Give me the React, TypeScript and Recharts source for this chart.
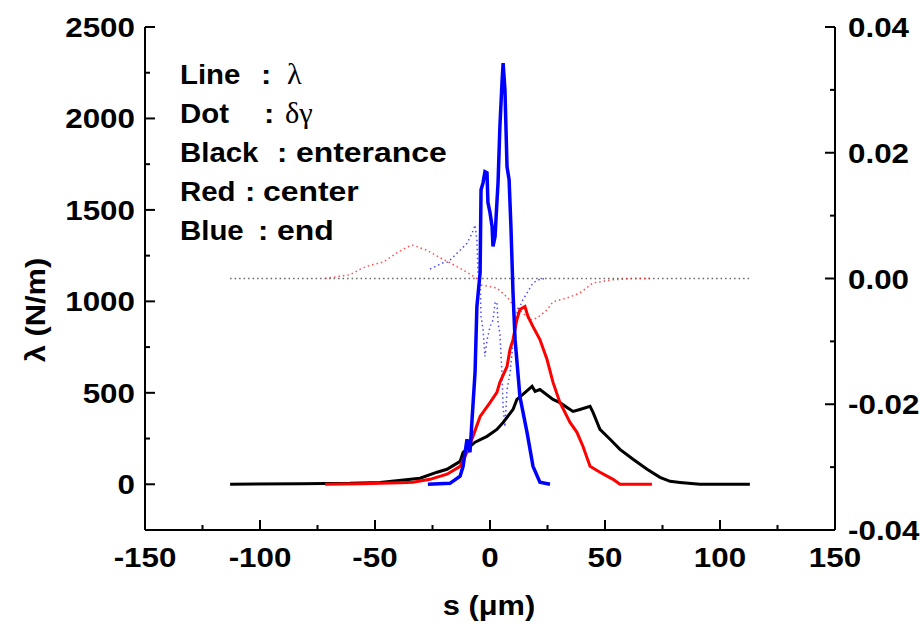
import React from 'react';
import { LineChart, Line, XAxis, YAxis } from 'recharts';

// s (um) positions and lambda (N/m) for entrance / center / end
const entS = [-113, -82.6, -60.9, -47.8, -30.4, -23, -18.7, -13, -11.7, -6.5, -1.3, 3, 5.7, 10, 11.7, 14.3, 18.3, 19.6, 21.7, 27.4, 30.4, 33.5, 36.1, 39.1, 43.5, 44.8, 47.8, 52.2, 56.5, 62.2, 68.3, 73.9, 78.3, 82.6, 91.3, 113];
const entLambda = [0, 3, 5, 10, 33, 66, 82, 125, 175, 230, 262, 300, 338, 409, 464, 491, 535, 508, 518, 464, 447, 420, 398, 409, 426, 393, 300, 246, 191, 137, 82, 38, 16, 10, 0, 0];

const cenS = [-71.7, -56.5, -39.1, -33.5, -26.1, -18.7, -13, -10, -7.4, -4.3, 0, 3, 4.3, 7.4, 8.7, 10, 11.7, 13, 15.2, 16.5, 18.7, 21.7, 24.8, 27.4, 30.4, 34.8, 37.8, 40.4, 43.5, 47.8, 53.5, 56.5, 70.4];
const cenLambda = [0, 3, 8, 11, 27, 55, 98, 175, 262, 371, 447, 502, 557, 644, 737, 791, 901, 955, 972, 917, 862, 791, 682, 557, 447, 338, 284, 208, 98, 66, 27, 0, 0];

const endS = [-27, -17.4, -13, -11.7, -10, -8.7, -7.8, -6.5, -5.7, -4.3, -3.9, -3, -2.2, -1.3, -0.9, 0, 0.9, 1.3, 2.2, 3, 3.5, 4.3, 5.2, 5.7, 6.5, 7.4, 8.3, 9.1, 10, 10.9, 13, 16.1, 18.7, 21.7, 26.1];
const endLambda = [0, 5, 44, 98, 246, 175, 355, 612, 972, 1157, 1610, 1649, 1709, 1703, 1540, 1485, 1410, 1300, 1354, 1540, 1649, 1954, 2194, 2303, 2156, 1736, 1665, 1409, 1048, 792, 480, 284, 98, 11, 0];

// delta gamma (right axis)
const zeroS = [-113, 113];
const zeroGamma = [0, 0];

const cenGS = [-71.7, -60.9, -55.2, -52.2, -46.5, -40.4, -36.1, -33.5, -27.4, -21.7, -17.4, -10, -5.7, -4.3, 3, 7.8, 10, 13, 17.4, 20.4, 24.8, 27.4, 33.5, 39.1, 44.8, 53.5, 62.2, 70.9];
const cenGamma = [0, 0.0006, 0.0017, 0.0021, 0.0026, 0.0041, 0.005, 0.0053, 0.0045, 0.0033, 0.0025, 0.001, 0, -0.001, -0.0015, -0.0031, -0.0042, -0.005, -0.0066, -0.0063, -0.005, -0.0037, -0.0031, -0.0023, -0.0007, -0.0002, 0, 0];

const endGS = [-26.1, -20.4, -18.3, -13, -10, -7.8, -6.5, -5.7, -5.2, -4.3, -3.9, -3, -2.2, -1.3, 0, 1.3, 2.2, 3, 3.5, 4.3, 5.2, 5.7, 6.5, 7.4, 8.7, 9.6, 10, 11.7, 14.3, 16.1, 18.7, 21.7, 24.8];
const endGamma = [0.0015, 0.0025, 0.0026, 0.0045, 0.0056, 0.0072, 0.0085, 0.0061, 0.0009, -0.0002, -0.006, -0.0082, -0.0124, -0.0098, -0.0077, -0.0066, -0.0039, -0.0037, -0.0071, -0.0087, -0.015, -0.0204, -0.0236, -0.0177, -0.015, -0.0118, -0.0097, -0.0055, -0.0034, -0.0023, -0.0007, -0.0001, 0];

const xTicks = [-150, -125, -100, -75, -50, -25, 0, 25, 50, 75, 100, 125, 150];
const leftTicks = [-250, 0, 250, 500, 750, 1000, 1250, 1500, 1750, 2000, 2250, 2500];
const rightTicks = [-0.04, -0.03, -0.02, -0.01, 0, 0.01, 0.02, 0.03, 0.04];

const legendRows = [
  { name: 'Line', value: 'λ', greek: true },
  { name: 'Dot', value: 'δγ', greek: true },
  { name: 'Black', value: 'enterance', greek: false },
  { name: 'Red', value: 'center', greek: false },
  { name: 'Blue', value: 'end', greek: false },
];
// x of the colon and of the value on each legend row
const colonX = [261, 264, 277, 245, 258];
const valueX = [287, 285, 296, 263, 277];

const zip = (s: number[], v: number[]) => s.map((x, i) => ({ x, v: v[i] }));

const FONT = "'Liberation Sans', Arial, Helvetica, sans-serif";
const GREEK = "'Liberation Serif', 'DejaVu Serif', serif";

const T = ({ x, y, anchor = 'start', sx = 1.12, size = 28, weight = 'bold', family = FONT, children }: any) => (
  <text
    transform={`translate(${x},${y}) scale(${sx},1)`}
    textAnchor={anchor}
    fontSize={size}
    fontWeight={weight}
    fontFamily={family}
    fill="#000"
  >
    {children}
  </text>
);

const BottomTick = ({ x, y, payload }: any) => {
  const major = payload.value % 50 === 0;
  return (
    <g>
      <line x1={x} x2={x} y1={y} y2={y - (major ? 10 : 5)} stroke="#000" strokeWidth={2} />
      {major && <T x={x} y={y + 37} anchor="middle">{payload.value}</T>}
    </g>
  );
};

const TopTick = ({ x, y, payload }: any) => {
  const major = payload.value % 50 === 0;
  return <line x1={x} x2={x} y1={y} y2={y + (major ? 10 : 5)} stroke="#000" strokeWidth={2} />;
};

const LeftTick = ({ x, y, payload }: any) => {
  const major = payload.value % 500 === 0;
  return (
    <g>
      <line x1={x} x2={x + (major ? 10 : 5)} y1={y} y2={y} stroke="#000" strokeWidth={2} />
      {major && payload.value >= 0 && <T x={x - 10} y={y + 10} anchor="end">{payload.value}</T>}
    </g>
  );
};

const RightTick = ({ x, y, payload }: any) => {
  const n = Math.round(payload.value * 100);
  const major = n % 2 === 0;
  return (
    <g>
      <line x1={x} x2={x - (major ? 10 : 5)} y1={y} y2={y} stroke="#000" strokeWidth={2} />
      {major && <T x={x + 13} y={y + 10}>{payload.value.toFixed(2)}</T>}
    </g>
  );
};

export default function App() {
  const axisLine = { stroke: '#000', strokeWidth: 2 };
  return (
    <div style={{ position: 'absolute', left: 0, top: 0, width: 921, height: 632, background: '#fff' }}>
      <LineChart width={921} height={632} margin={{ top: 27, right: 0, bottom: 0, left: 0 }}>
        <XAxis xAxisId="b" type="number" dataKey="x" domain={[-150, 150]} ticks={xTicks} interval={0}
          height={102} tickSize={0} tickMargin={0} tickLine={false} axisLine={axisLine} tick={<BottomTick />} allowDataOverflow />
        <XAxis xAxisId="t" orientation="top" type="number" dataKey="x" domain={[-150, 150]} ticks={xTicks} interval={0}
          height={0} tickSize={0} tickMargin={0} tickLine={false} axisLine={axisLine} tick={<TopTick />} allowDataOverflow />
        <YAxis yAxisId="l" type="number" domain={[-250, 2500]} ticks={leftTicks} interval={0}
          width={145} tickSize={0} tickMargin={0} tickLine={false} axisLine={axisLine} tick={<LeftTick />} allowDataOverflow />
        <YAxis yAxisId="r" orientation="right" type="number" domain={[-0.04, 0.04]} ticks={rightTicks} interval={0}
          width={86} tickSize={0} tickMargin={0} tickLine={false} axisLine={axisLine} tick={<RightTick />} allowDataOverflow />

        <Line xAxisId="b" yAxisId="r" data={zip(zeroS, zeroGamma)} dataKey="v" stroke="#666" strokeWidth={1.5}
          strokeDasharray="1.5 3" dot={false} isAnimationActive={false} />
        <Line xAxisId="b" yAxisId="r" data={zip(cenGS, cenGamma)} dataKey="v" stroke="#ff2020" strokeOpacity={0.8} strokeWidth={1.5}
          strokeDasharray="1.5 3" dot={false} isAnimationActive={false} />
        <Line xAxisId="b" yAxisId="r" data={zip(endGS, endGamma)} dataKey="v" stroke="#2020ff" strokeOpacity={0.8} strokeWidth={1.5}
          strokeDasharray="1.5 3" dot={false} isAnimationActive={false} />

        <Line xAxisId="b" yAxisId="l" data={zip(entS, entLambda)} dataKey="v" stroke="#000" strokeWidth={3}
          dot={false} isAnimationActive={false} />
        <Line xAxisId="b" yAxisId="l" data={zip(cenS, cenLambda)} dataKey="v" stroke="#ff0000" strokeWidth={3}
          dot={false} isAnimationActive={false} />
        <Line xAxisId="b" yAxisId="l" data={zip(endS, endLambda)} dataKey="v" stroke="#0000ff" strokeWidth={3.5}
          dot={false} isAnimationActive={false} />
      </LineChart>

      <svg width={921} height={632} style={{ position: 'absolute', left: 0, top: 0, pointerEvents: 'none' }}>
        {legendRows.map((r, i) => {
          const y = 84 + i * 39;
          return (
            <g key={r.name}>
              <T x={180} y={y} sx={1.05}>{r.name}</T>
              <T x={colonX[i]} y={y} sx={1.1}>:</T>
              {r.greek ? (
                <T x={valueX[i]} y={y} sx={1.05} size={29} weight="normal" family={GREEK}>{r.value}</T>
              ) : (
                <T x={valueX[i]} y={y} sx={1.14}>{r.value}</T>
              )}
            </g>
          );
        })}
        <T x={489} y={615} anchor="middle" sx={1.1}>s (μm)</T>
        <text transform="translate(45,310) rotate(-90) scale(1.1,1)" textAnchor="middle" fontSize={28}
          fontWeight="bold" fontFamily={FONT} fill="#000">λ (N/m)</text>
      </svg>
    </div>
  );
}
